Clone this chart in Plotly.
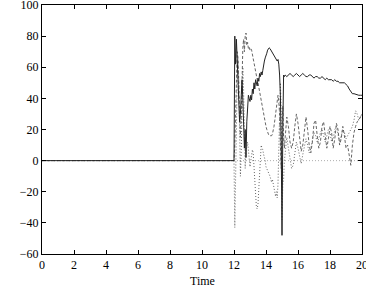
import plotly.graph_objects as go

# time samples
t_pre = [0.0]
t_a = [12.00, 12.05, 12.10, 12.15, 12.20, 12.25, 12.30, 12.35, 12.40, 12.45,
       12.50, 12.55, 12.60, 12.65, 12.70, 12.75, 12.80, 12.85, 12.90, 12.95,
       13.00, 13.05, 13.10, 13.15, 13.20, 13.25, 13.30, 13.35, 13.40, 13.45,
       13.50, 13.55, 13.60, 13.65, 13.70, 13.75, 13.80, 13.85, 13.90, 13.95,
       14.00, 14.05, 14.10, 14.15, 14.20, 14.25, 14.30, 14.35, 14.40, 14.45,
       14.50, 14.55, 14.60, 14.65, 14.70, 14.75, 14.80, 14.85, 14.90, 14.95,
       15.00, 15.05, 15.10, 15.15, 15.20]
t_b = [15.3, 15.4, 15.5, 15.6, 15.7, 15.8, 15.9, 16.0, 16.1, 16.2,
       16.3, 16.4, 16.5, 16.6, 16.7, 16.8, 16.9, 17.0, 17.1, 17.2,
       17.3, 17.4, 17.5, 17.6, 17.7, 17.8, 17.9, 18.0, 18.1, 18.2,
       18.3, 18.4, 18.5, 18.6, 18.7, 18.8, 18.9, 19.0, 19.1, 19.2,
       19.3, 19.4, 19.5, 19.6, 19.7, 19.8, 19.9, 20.0]
time = t_pre + t_a + t_b

solid_pre = [0]
solid_a = [0, 80, 62, 78, 68, 52, 38, 25, 30, 45,
           52, 40, 22, 8, 20, 2, 25, 38, 42, 40,
           38, 42, 39, 46, 43, 50, 46, 52, 50, 48,
           53, 51, 56, 54, 57, 55, 58, 62, 64, 66,
           67, 69, 71, 72, 72.5, 72, 71, 71, 70, 69,
           68, 67, 66, 65, 64, 65, 62, 55, 42, 10,
           -48, 20, 55, 54, 55]
solid_b = [54, 55, 56, 55, 54, 55, 56, 55, 54, 55,
           56, 55, 54, 54, 55, 55, 54, 53, 54, 54,
           53, 53, 54, 53, 52, 53, 52, 52, 52, 51,
           52, 51, 51, 50, 50, 50, 50, 49, 48, 46,
           44, 43, 43, 42.5, 42, 42, 42, 42]

dashed_pre = [0]
dashed_a = [0, 10, 35, 60, 70, 66, 50, 30, 15, 28,
            55, 72, 78, 70, 80, 82, 74, 76, 72, 73,
            71, 72, 71, 68, 66, 63, 60, 57, 54, 52,
            50, 47, 45, 42, 40, 36, 33, 30, 27, 24,
            22, 20, 18, 17, 16, 16, 16, 16, 17, 19,
            22, 26, 30, 34, 38, 42, 38, 30, 10, -5,
            20, 35, 15, 8, 15]
dashed_b = [28, 22, 12, 8, 12, 22, 30, 24, 14, 6,
            10, 20, 28, 20, 10, 5, 12, 24, 26, 16,
            8, 12, 22, 25, 15, 8, 14, 22, 18, 8,
            14, 24, 20, 10, 14, 22, 16, 8, 10, 2,
            -3, 10, 18, 22, 25, 26, 28, 30]

dotted_pre = [0]
dotted_a = [0, -43, -20, 20, 55, 65, 50, 20, -10, 5,
            40, 60, 45, 10, -5, 8, 8, 12, 5, 0,
            -4, 0, 4, 7, 5, -5, -15, -24, -30, -31,
            -28, -18, -5, 5, 10, 8, 7, 4, 2, 0,
            -4, -5, -6, -8, -9, -10, -12, -14, -12, -15,
            -18, -22, -23, -20, -24, -15, 10, 40, 50, 30,
            -38, -15, -12, 0, 7]
dotted_b = [15, 8, 0, -5, -3, 5, 12, 8, 2, -2,
            4, 10, 14, 10, 5, 8, 14, 18, 16, 12,
            14, 18, 20, 16, 12, 16, 20, 18, 12, 14,
            20, 22, 16, 12, 16, 20, 18, 14, 16, 18,
            20, 22, 26, 32, 30, 26, 28, 30]

zero_x = [12, 20]
zero_y = [0, 0]

solid = solid_pre + solid_a + solid_b
dashed = dashed_pre + dashed_a + dashed_b
dotted = dotted_pre + dotted_a + dotted_b

fig = go.Figure()
fig.add_trace(go.Scatter(x=zero_x, y=zero_y, mode="lines",
                         line=dict(color="#999999", width=0.8, dash="1px,2px")))
fig.add_trace(go.Scatter(x=time, y=dotted, mode="lines",
                         line=dict(color="#555555", width=0.9, dash="1px,2px")))
fig.add_trace(go.Scatter(x=time, y=dashed, mode="lines",
                         line=dict(color="#555555", width=0.9, dash="3px,2px")))
fig.add_trace(go.Scatter(x=time, y=solid, mode="lines",
                         line=dict(color="#222222", width=1)))

axis_common = dict(
    showgrid=False, zeroline=False, showline=True, linecolor="black",
    linewidth=1, mirror="ticks", ticks="inside", ticklen=4,
    tickcolor="black", tickwidth=1, ticklabeloverflow="allow",
    automargin=False,
    tickfont=dict(family="Liberation Serif", size=12, color="black"),
)
fig.update_layout(
    width=366, height=300,
    margin=dict(l=42, r=4, t=5, b=46),
    paper_bgcolor="white", plot_bgcolor="white",
    showlegend=False,
    font=dict(family="Liberation Serif", size=12, color="black"),
    xaxis=dict(range=[0, 20], dtick=2, tick0=0, **axis_common),
    yaxis=dict(range=[-60, 100], dtick=20, tick0=-60, **axis_common),
    annotations=[dict(text="Time", xref="paper", yref="paper", x=0.5,
                      y=-0.108, xanchor="center", yanchor="middle",
                      showarrow=False,
                      font=dict(family="Liberation Serif", size=12,
                                color="black"))],
)
fig.write_html("out.html")
